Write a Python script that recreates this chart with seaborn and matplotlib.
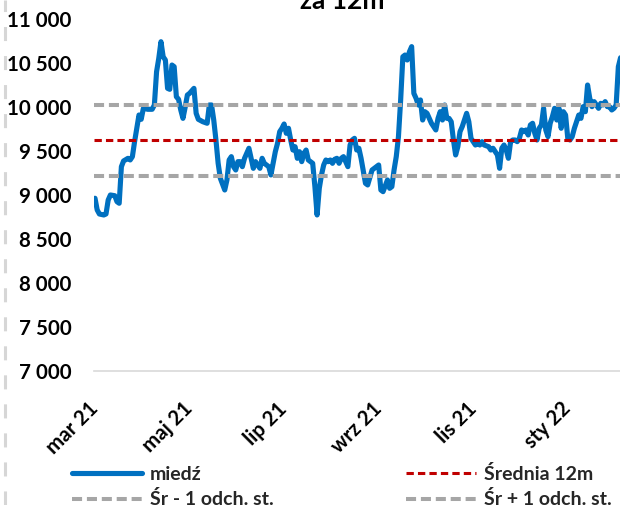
import matplotlib
matplotlib.use("Agg")
import matplotlib.pyplot as plt
from matplotlib.lines import Line2D
import seaborn as sns
import pandas as pd

# Copper (LME), USD/t: trading-session number and closing price
session = [
    0, 1, 2, 4, 5, 6, 7, 9, 10, 11, 12, 13, 15, 16, 17, 18, 19, 20, 21, 22,
    24, 26, 27, 28, 29, 30, 31, 32, 33, 34, 35, 36, 37, 38, 39, 40, 41, 42, 43, 45,
    46, 47, 49, 51, 52, 53, 54, 55, 56, 57, 59, 60, 61, 62, 63, 64, 65, 66, 67, 68,
    70, 71, 72, 73, 74, 75, 76, 77, 79, 80, 81, 82, 83, 84, 85, 86, 87, 88, 89, 90,
    91, 92, 93, 94, 95, 96, 97, 99, 100, 101, 102, 103, 104, 105, 106, 107, 108, 109, 110, 111,
    112, 113, 114, 115, 116, 117, 118, 119, 120, 121, 123, 124, 126, 128, 129, 130, 131, 133, 134, 135,
    136, 137, 138, 139, 140, 141, 142, 143, 144, 145, 146, 147, 148, 149, 150, 151, 152, 153, 154, 155,
    156, 157, 158, 159, 160, 161, 162, 163, 164, 165, 166, 167, 168, 169, 170, 171, 172, 173, 174, 175,
    176, 177, 179, 180, 181, 182, 183, 184, 185, 186, 187, 188, 189, 190, 191, 192, 193, 194, 195, 196,
    197, 198, 199, 200, 201, 202, 203, 204, 205, 206, 207, 208, 209, 210, 211, 212, 213, 214, 215, 216,
    217, 218, 219, 220, 221, 222, 223, 224, 225, 226, 227, 228, 229, 230, 231, 232, 233, 234, 235, 236,
    237, 238, 239,
]
copper = [
    8963, 8830, 8784, 8773, 8784, 8943, 9000, 8992, 8924, 8906, 9322, 9387, 9417, 9398, 9436, 9606, 9758, 9909, 9860, 9985,
    9974, 9974, 10023, 10401, 10553, 10742, 10571, 10534, 10212, 10201, 10477, 10458, 10117, 10087, 9966, 9871, 9996, 10136, 10155, 10212,
    9928, 9860, 9833, 9815, 10023, 10023, 9852, 9625, 9360, 9190, 9057, 9171, 9398, 9436, 9322, 9284, 9379, 9379, 9322, 9417,
    9531, 9417, 9303, 9379, 9341, 9303, 9417, 9360, 9322, 9228, 9360, 9492, 9587, 9720, 9758, 9807, 9701, 9758, 9625, 9511,
    9549, 9417, 9492, 9379, 9474, 9511, 9398, 9360, 9095, 8773, 9076, 9228, 9341, 9398, 9379, 9398, 9360, 9406, 9417, 9360,
    9417, 9436, 9379, 9322, 9568, 9625, 9644, 9511, 9531, 9417, 9133, 9114, 9284, 9322, 9341, 9057, 9038, 9171, 9076, 9095,
    9284, 9436, 9663, 10080, 10571, 10591, 10534, 10628, 10686, 10155, 10099, 10023, 10080, 9852, 9947, 9928, 9871, 9815, 9777, 9739,
    9871, 9947, 9852, 10023, 9871, 9871, 9833, 9625, 9455, 9549, 9720, 9777, 9852, 9928, 9833, 9644, 9606, 9568, 9587, 9568,
    9606, 9568, 9549, 9511, 9531, 9492, 9455, 9303, 9531, 9568, 9511, 9417, 9606, 9625, 9625, 9606, 9644, 9739, 9720, 9739,
    9682, 9796, 9815, 9701, 9625, 9758, 9796, 9985, 9739, 9663, 9815, 9890, 9985, 9852, 9985, 9758, 9947, 9909, 9644, 9625,
    9663, 9758, 9833, 9909, 9871, 10004, 9947, 10250, 10099, 10004, 10061, 10023, 9985, 10042, 10023, 10061, 10004, 10004, 9966, 9985,
    10023, 10458, 10560,
]

tick_sessions = [0, 43, 86, 129, 172, 215]
tick_labels = ["mar 21", "maj 21", "lip 21", "wrz 21", "lis 21", "sty 22"]
y_ticks = [7000, 7500, 8000, 8500, 9000, 9500, 10000, 10500, 11000]

mean_12m = 9620   # 12-month average
sd_12m = 400      # one standard deviation

BLUE = "#0070C0"
RED = "#C00000"
GREY = "#A6A6A6"

sns.set_theme(style="white")
plt.rcParams["font.family"] = ["Lato", "DejaVu Sans"]
plt.rcParams["font.weight"] = "bold"

W, H = 620, 505
fig = plt.figure(figsize=(W / 100, H / 100), dpi=100)
ax = fig.add_axes([94 / W, 134 / H, 526 / W, 352 / H])

df = pd.DataFrame({"session": session, "cena": copper})
sns.lineplot(data=df, x="session", y="cena", ax=ax, color=BLUE, linewidth=3.7,
             solid_joinstyle="round", solid_capstyle="round", zorder=2)
line_cu = ax.get_lines()[0]

line_mean = ax.axhline(mean_12m, color=RED, linewidth=2.2, dashes=(2.4, 1.35), zorder=3)
line_hi = ax.axhline(mean_12m + sd_12m, color=GREY, linewidth=2.9, dashes=(2.5, 1.2), zorder=3)
line_lo = ax.axhline(mean_12m - sd_12m, color=GREY, linewidth=2.9, dashes=(2.5, 1.2), zorder=3)

ax.set_xlim(-0.455, 238.75)
ax.set_ylim(7000, 11000)
ax.set_xlabel("")
ax.set_ylabel("")

ax.set_yticks(y_ticks)
ax.set_yticklabels([f"{v:,}".replace(",", " ") for v in y_ticks])
ax.set_xticks(tick_sessions)
ax.set_xticklabels(tick_labels, rotation=45, ha="right", va="center",
                   rotation_mode="anchor")
ax.tick_params(axis="y", length=0, pad=16, labelsize=14.8, labelcolor="black")
ax.tick_params(axis="x", length=0, pad=25, labelsize=14.8, labelcolor="black")
for lab in ax.get_xticklabels() + ax.get_yticklabels():
    lab.set_fontweight("bold")

for side in ("left", "right", "top"):
    ax.spines[side].set_visible(False)
ax.spines["bottom"].set_color("#D9D9D9")
ax.spines["bottom"].set_linewidth(1.2)
ax.grid(False)

fig.text(342 / W, 1 - 9.3 / H, "za 12m", ha="center", va="baseline",
         fontsize=19, fontweight="bold", color="black")

fig.legend([line_cu, line_lo, line_mean, line_hi],
           ["miedź", "Śr - 1 odch. st.", "Średnia 12m", "Śr + 1 odch. st."],
           ncol=2, loc="upper left", bbox_to_anchor=(72 / W, 1 - 465 / H),
           frameon=False, borderpad=0, borderaxespad=0,
           handlelength=3.6, handletextpad=0.4, columnspacing=6.8,
           labelspacing=0.38, prop={"size": 14, "weight": "bold"})

# dashed frame edge on the left
fig.add_artist(Line2D([4.5 / W, 4.5 / W], [0, 1], transform=fig.transFigure,
                      color="#D6D6D6", linewidth=2.2, dashes=(4.6, 4.9)))

fig.savefig("out.png", dpi=100)
